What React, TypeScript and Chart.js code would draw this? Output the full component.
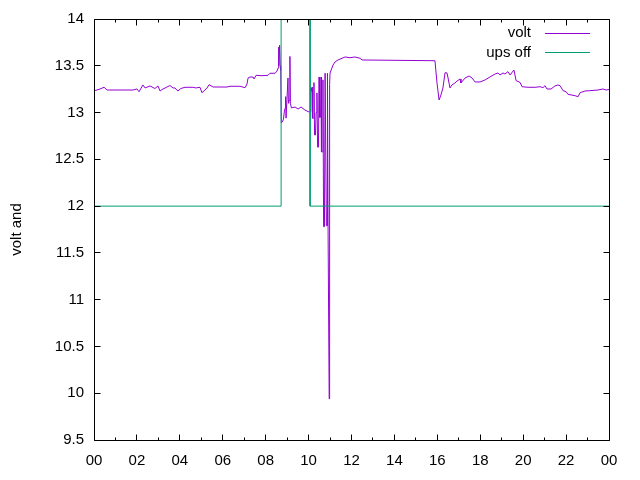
import React, { useEffect, useRef } from "react";
import { Chart, registerables } from "chart.js";

Chart.register(...registerables);

// ---- data (hours of day, volts) ----
const voltHours = [
  0, 0.14, 0.28, 0.47, 0.61, 1.82, 2.0, 2.1, 2.28, 2.38, 2.61, 2.84, 2.98, 3.08, 3.17, 3.36, 3.54, 3.68, 3.77,
  3.91, 4.05, 4.24, 4.61, 4.75, 4.94, 5.03, 5.27, 5.36, 5.55, 6.2, 6.34, 6.8, 7.04, 7.13, 7.18, 7.27, 7.41,
  7.46, 7.55, 7.83, 8.11, 8.2, 8.44, 8.53, 8.58,
  8.6, 8.62, 8.65, 8.68, 8.7, 8.73, 8.78, 8.83, 8.88, 8.92, 8.93, 8.95, 8.99, 9.04, 9.06, 9.08, 9.11, 9.13,
  9.15, 9.2, 9.37, 9.51, 9.65, 9.83, 10.02,
  10.07, 10.09, 10.11, 10.16, 10.18, 10.23, 10.25, 10.28, 10.32, 10.35, 10.39, 10.42, 10.46, 10.49, 10.51,
  10.56, 10.58, 10.6, 10.65, 10.67, 10.7, 10.74, 10.77, 10.81, 10.83, 10.86, 10.88, 10.91, 10.94, 10.96,
  10.98, 11.0, 11.14, 11.23, 11.37,
  11.7, 11.93, 12.16, 12.4, 12.49, 15.89, 15.98, 16.08, 16.17, 16.26, 16.36, 16.45, 16.5, 16.59, 16.68,
  16.82, 16.92, 17.06, 17.1, 17.29, 17.48, 17.62, 17.76, 17.99, 18.22, 18.45, 18.69, 18.83, 18.92, 19.06,
  19.15, 19.29, 19.39, 19.57, 19.67, 19.85, 19.95, 20.23, 20.55, 20.79, 20.92, 21.02, 21.11, 21.3, 21.48,
  21.62, 21.72, 21.86, 22.0, 22.09, 22.42, 22.56, 22.65, 22.88, 23.11, 23.49, 23.72, 23.86, 24.0,
];
const voltValues = [
  13.234, 13.241, 13.252, 13.27, 13.241, 13.241, 13.252, 13.223, 13.295, 13.263, 13.284, 13.257, 13.284,
  13.23, 13.246, 13.268, 13.289, 13.263, 13.263, 13.23, 13.257, 13.27, 13.27, 13.263, 13.27, 13.212, 13.263,
  13.298, 13.273, 13.273, 13.281, 13.281, 13.266, 13.305, 13.369, 13.38, 13.38, 13.359, 13.398, 13.394,
  13.398, 13.42, 13.42, 13.444, 13.476,
  13.7, 13.5, 13.72, 13.5, 13.45, 12.89, 12.9, 12.93, 13.03, 13.05, 13.17, 12.94, 12.94, 13.37, 13.1, 13.13,
  13.13, 13.6, 13.1, 13.05, 13.059, 13.038, 13.059, 13.027, 13.006,
  13.01, 13.26, 13.22, 13.27, 12.94, 12.94, 13.32, 12.76, 12.76, 13.0, 13.21, 12.63, 12.63, 13.38, 12.95,
  12.95, 13.38, 12.58, 12.58, 13.35, 11.78, 11.78, 13.42, 13.42, 11.79, 11.79, 13.42, 11.67, 11.67, 9.94,
  13.3, 13.423, 13.508, 13.54, 13.562,
  13.594, 13.586, 13.594, 13.58, 13.562, 13.554,
  13.327, 13.134, 13.188, 13.263, 13.426, 13.423, 13.369, 13.263, 13.295, 13.316, 13.337, 13.359, 13.316,
  13.369, 13.391, 13.369, 13.327, 13.327, 13.348, 13.38, 13.412, 13.423, 13.402, 13.423, 13.412, 13.437,
  13.402, 13.455, 13.341, 13.323, 13.276, 13.27, 13.27, 13.276, 13.266, 13.287, 13.252, 13.252, 13.284,
  13.295, 13.287, 13.234, 13.223, 13.195, 13.18, 13.17, 13.212, 13.23, 13.234, 13.241, 13.252, 13.241,
  13.246,
];
const upsHours = [0, 8.72, 8.72, 10.07, 10.07, 24];
const upsValues = [12, 12, 15, 15, 12, 12];

const seriesLabels = ["volt", "ups off"];
const seriesColors = ["#9400d3", "#009e73"];
const yAxisTitle = "volt and";
const xMin = 0;
const xMax = 24;
const xMajorStep = 2;
const xMinorStep = 1;
const yMin = 9.5;
const yMax = 14;
const yStep = 0.5;

const FONT_FAMILY = '"Liberation Sans", Arial, sans-serif';
const FONT_SIZE = 15;

const framePlugin = {
  id: "gnuFrame",
  afterDatasetsDraw(chart: any) {
    const { ctx, chartArea: a, scales } = chart;
    const xs = scales.x;
    const ys = scales.y;
    const px = (v: number) => Math.floor(v) + 0.5;
    const L = px(a.left);
    const R = px(a.right);
    const T = px(a.top);
    const B = px(a.bottom);
    ctx.save();
    ctx.strokeStyle = "#000";
    ctx.lineWidth = 1;
    ctx.beginPath();
    ctx.rect(L, T, R - L, B - T);
    for (let h = xMin; h <= xMax + 1e-9; h += xMinorStep) {
      const len = Math.abs(h % xMajorStep) < 1e-9 ? 6 : 3;
      const x = px(xs.getPixelForValue(h));
      ctx.moveTo(x, B);
      ctx.lineTo(x, B - len);
      ctx.moveTo(x, T);
      ctx.lineTo(x, T + len);
    }
    for (let v = yMin; v <= yMax + 1e-9; v += yStep) {
      const y = px(ys.getPixelForValue(v));
      ctx.moveTo(L, y);
      ctx.lineTo(L + 6, y);
      ctx.moveTo(R, y);
      ctx.lineTo(R - 6, y);
    }
    ctx.stroke();

    ctx.font = `${FONT_SIZE}px ${FONT_FAMILY}`;
    ctx.textAlign = "right";
    ctx.textBaseline = "middle";
    chart.data.datasets.forEach((ds: any, i: number) => {
      const y = 33 + i * 19.5;
      ctx.fillStyle = "#000";
      ctx.fillText(ds.label, 531, y);
      ctx.strokeStyle = ds.borderColor;
      ctx.beginPath();
      ctx.moveTo(545, Math.floor(y) + 0.5);
      ctx.lineTo(590, Math.floor(y) + 0.5);
      ctx.stroke();
    });
    ctx.restore();
  },
};

export default function App() {
  const canvasRef = useRef<HTMLCanvasElement | null>(null);

  useEffect(() => {
    const canvas = canvasRef.current;
    if (!canvas) return;
    const chart = new Chart(canvas, {
      type: "line",
      data: {
        datasets: [
          {
            label: seriesLabels[0],
            data: voltHours.map((h, i) => ({ x: h, y: voltValues[i] })),
            borderColor: seriesColors[0],
            backgroundColor: seriesColors[0],
            borderWidth: 1,
            pointRadius: 0,
            tension: 0,
            fill: false,
            order: 1,
          },
          {
            label: seriesLabels[1],
            data: upsHours.map((h, i) => ({ x: h, y: upsValues[i] })),
            borderColor: seriesColors[1],
            backgroundColor: seriesColors[1],
            borderWidth: 1,
            pointRadius: 0,
            tension: 0,
            fill: false,
            order: 0,
          },
        ],
      },
      options: {
        animation: false,
        responsive: false,
        devicePixelRatio: 1,
        layout: { padding: { top: 19, right: 31, left: 0, bottom: 0 } },
        plugins: {
          legend: { display: false },
          tooltip: { enabled: false },
        },
        scales: {
          x: {
            type: "linear",
            min: xMin,
            max: xMax,
            grid: { display: false, drawTicks: false },
            border: { display: false },
            ticks: {
              stepSize: xMajorStep,
              autoSkip: false,
              maxRotation: 0,
              padding: 12,
              color: "#000",
              font: { family: FONT_FAMILY, size: FONT_SIZE },
              callback: (v: any) => String(Number(v) % 24).padStart(2, "0"),
            },
            afterFit: (s: any) => {
              s.height = 40;
            },
          },
          y: {
            type: "linear",
            min: yMin,
            max: yMax,
            grid: { display: false, drawTicks: false },
            border: { display: false },
            ticks: {
              stepSize: yStep,
              autoSkip: false,
              padding: 10,
              color: "#000",
              font: { family: FONT_FAMILY, size: FONT_SIZE },
              callback: (v: any) => String(v),
            },
            title: {
              display: true,
              text: yAxisTitle,
              color: "#000",
              font: { family: FONT_FAMILY, size: FONT_SIZE },
              padding: { top: 8, bottom: 0 },
            },
            afterFit: (s: any) => {
              s.width = 94;
            },
          },
        },
      },
      plugins: [framePlugin],
    });
    return () => chart.destroy();
  }, []);

  return (
    <div style={{ position: "absolute", left: 0, top: 0, width: 640, height: 480, background: "#fff" }}>
      <canvas ref={canvasRef} width={640} height={480} style={{ display: "block" }} />
    </div>
  );
}
